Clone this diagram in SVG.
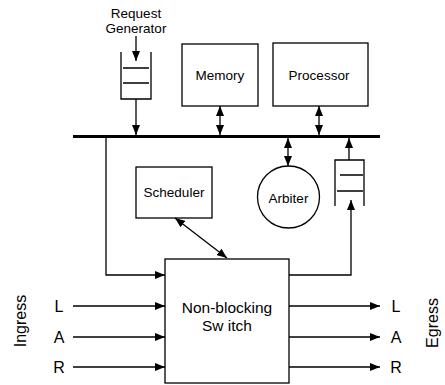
<svg xmlns="http://www.w3.org/2000/svg" width="445" height="385" viewBox="0 0 445 385">
<style>
.box{fill:#fff;stroke:#000;stroke-width:1.3}
.ln{fill:none;stroke:#000;stroke-width:1.3}
.t{font-family:"Liberation Sans",Arial,sans-serif;font-size:13.5px;fill:#000;text-anchor:middle}
.b{font-size:16px}
.s{font-size:15.5px}
</style>
<defs>
<marker id="ah" viewBox="0 0 10 8" refX="10" refY="4" markerWidth="10" markerHeight="8" markerUnits="userSpaceOnUse" orient="auto-start-reverse">
<path d="M0,0 L10,4 L0,8 Z" fill="#000"/>
</marker>
</defs>
<rect width="445" height="385" fill="#fff"/>
<g id="request-generator">
<text class="t" x="136" y="18">Request</text>
<text class="t" x="136" y="33">Generator</text>
</g>
<g id="in-queue">
<path class="ln" d="M121,52 V99 H151 V52 M123,68 H149 M123,83 H149"/>
</g>
<g id="memory">
<rect class="box" x="182" y="44" width="76" height="62"/>
<text class="t" x="220" y="80">Memory</text>
</g>
<g id="processor">
<rect class="box" x="273" y="43" width="95" height="63"/>
<text class="t" x="319" y="80">Processor</text>
</g>
<g id="bus">
<line x1="73" y1="136.5" x2="380" y2="136.5" stroke="#000" stroke-width="3"/>
</g>
<g id="scheduler">
<rect class="box" x="136" y="167" width="76" height="51"/>
<text class="t" x="174" y="197">Scheduler</text>
</g>
<g id="arbiter">
<circle class="box" cx="288.5" cy="197" r="31"/>
<text class="t" x="288.5" y="203">Arbiter</text>
</g>
<g id="out-queue">
<path class="ln" d="M335,206 V160 H364 V206 M340,175 H363 M337,191 H363"/>
</g>
<g id="switch">
<rect class="box" x="165" y="259" width="124" height="124"/>
<text class="t s" x="227" y="313">Non-blocking</text>
<text class="t s" x="227" y="331">Sw itch</text>
</g>
<g id="labels">
<text class="t b" x="59" y="312">L</text>
<text class="t b" x="59" y="343">A</text>
<text class="t b" x="59" y="373">R</text>
<text class="t b" x="396" y="312">L</text>
<text class="t b" x="396" y="343">A</text>
<text class="t b" x="396" y="373">R</text>
<text class="t b" transform="translate(26,321) rotate(-90)">Ingress</text>
<text class="t b" transform="translate(438,323) rotate(-90)">Egress</text>
</g>
<g id="connectors">
<line class="ln" x1="136" y1="36" x2="136" y2="61" marker-end="url(#ah)"/>
<line class="ln" x1="136" y1="99" x2="136" y2="135" marker-end="url(#ah)"/>
<line class="ln" x1="220" y1="106" x2="220" y2="135" marker-start="url(#ah)" marker-end="url(#ah)"/>
<line class="ln" x1="319" y1="106" x2="319" y2="135" marker-start="url(#ah)" marker-end="url(#ah)"/>
<line class="ln" x1="288" y1="138" x2="288" y2="166" marker-start="url(#ah)" marker-end="url(#ah)"/>
<line class="ln" x1="349" y1="160" x2="349" y2="138" marker-end="url(#ah)"/>
<polyline class="ln" points="106,138 106,275 165,275" marker-end="url(#ah)"/>
<polyline class="ln" points="289,275 351,275 351,200" marker-end="url(#ah)"/>
<line class="ln" x1="175" y1="218" x2="227" y2="258" marker-start="url(#ah)" marker-end="url(#ah)"/>
<line class="ln" x1="73" y1="306" x2="165" y2="306" marker-end="url(#ah)"/>
<line class="ln" x1="73" y1="337" x2="165" y2="337" marker-end="url(#ah)"/>
<line class="ln" x1="73" y1="367" x2="165" y2="367" marker-end="url(#ah)"/>
<line class="ln" x1="289" y1="306" x2="380" y2="306" marker-end="url(#ah)"/>
<line class="ln" x1="289" y1="337" x2="380" y2="337" marker-end="url(#ah)"/>
<line class="ln" x1="289" y1="367" x2="380" y2="367" marker-end="url(#ah)"/>
</g>
</svg>
